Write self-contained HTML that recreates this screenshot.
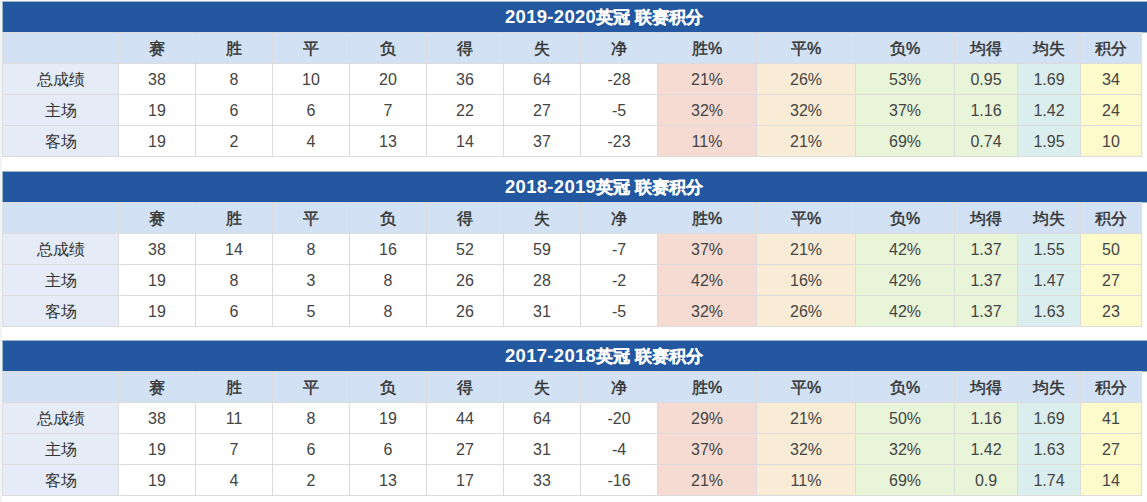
<!DOCTYPE html>
<html><head><meta charset="utf-8"><style>
html,body{margin:0;padding:0;width:1147px;height:502px;overflow:hidden;background:#fff;position:relative}
body{font-family:"Liberation Sans",sans-serif;color:#333333}
.s{position:absolute;left:0;top:0;width:1px;height:502px;background:#eef1f5}
.s2{position:absolute;left:1px;top:0;width:1px;height:502px;background:#f6f7f9}
.b{position:absolute;background:#dcdcdc}
.c{position:absolute;box-sizing:border-box;padding-top:2px;display:flex;align-items:center;justify-content:center;font-size:16px;white-space:nowrap;color:#444}
.h{color:#333333;font-weight:normal;-webkit-text-stroke:0.45px #333333;background:#d2e2f4}
.t{position:absolute;background:#2358a0;color:#fff;font-weight:bold;white-space:nowrap}
.t span{position:absolute;top:0;line-height:30px}
.t .d{font-size:18.5px;letter-spacing:0.3px;left:502px}
.t .k{font-size:16.8px;top:1px;-webkit-text-stroke:0.3px #fff;left:593px}
</style></head><body>
<div class="s"></div><div class="s2"></div>

<div class="b" style="left:2px;top:1px;width:1145px;height:32px;background:#9ab6c4"></div>
<div class="t" style="left:3px;top:2px;width:1200px;height:30px"><span class="d">2019-2020</span><span class="k">英冠 联赛积分</span></div>
<div class="b" style="left:2px;top:32px;width:1140px;height:125px"></div>
<div class="c h" style="left:3px;top:33px;width:115px;height:30px"></div>
<div class="c h" style="left:119px;top:33px;width:76px;height:30px">赛</div>
<div class="c h" style="left:196px;top:33px;width:76px;height:30px">胜</div>
<div class="c h" style="left:273px;top:33px;width:76px;height:30px">平</div>
<div class="c h" style="left:350px;top:33px;width:76px;height:30px">负</div>
<div class="c h" style="left:427px;top:33px;width:76px;height:30px">得</div>
<div class="c h" style="left:504px;top:33px;width:76px;height:30px">失</div>
<div class="c h" style="left:581px;top:33px;width:76px;height:30px">净</div>
<div class="c h" style="left:658px;top:33px;width:98px;height:30px">胜%</div>
<div class="c h" style="left:757px;top:33px;width:98px;height:30px">平%</div>
<div class="c h" style="left:856px;top:33px;width:98px;height:30px">负%</div>
<div class="c h" style="left:955px;top:33px;width:62px;height:30px">均得</div>
<div class="c h" style="left:1018px;top:33px;width:62px;height:30px">均失</div>
<div class="c h" style="left:1081px;top:33px;width:60px;height:30px">积分</div>
<div class="c" style="left:3px;top:64px;width:115px;height:30px;background:#e5ecf7;color:#333">总成绩</div>
<div class="c" style="left:119px;top:64px;width:76px;height:30px;background:#ffffff">38</div>
<div class="c" style="left:196px;top:64px;width:76px;height:30px;background:#ffffff">8</div>
<div class="c" style="left:273px;top:64px;width:76px;height:30px;background:#ffffff">10</div>
<div class="c" style="left:350px;top:64px;width:76px;height:30px;background:#ffffff">20</div>
<div class="c" style="left:427px;top:64px;width:76px;height:30px;background:#ffffff">36</div>
<div class="c" style="left:504px;top:64px;width:76px;height:30px;background:#ffffff">64</div>
<div class="c" style="left:581px;top:64px;width:76px;height:30px;background:#ffffff">-28</div>
<div class="c" style="left:658px;top:64px;width:98px;height:30px;background:#f6dbd3">21%</div>
<div class="c" style="left:757px;top:64px;width:98px;height:30px;background:#f8ecd7">26%</div>
<div class="c" style="left:856px;top:64px;width:98px;height:30px;background:#e8f5d9">53%</div>
<div class="c" style="left:955px;top:64px;width:62px;height:30px;background:#e8f5d9">0.95</div>
<div class="c" style="left:1018px;top:64px;width:62px;height:30px;background:#daeeed">1.69</div>
<div class="c" style="left:1081px;top:64px;width:60px;height:30px;background:#fdfbcb">34</div>
<div class="c" style="left:3px;top:95px;width:115px;height:30px;background:#e5ecf7;color:#333">主场</div>
<div class="c" style="left:119px;top:95px;width:76px;height:30px;background:#ffffff">19</div>
<div class="c" style="left:196px;top:95px;width:76px;height:30px;background:#ffffff">6</div>
<div class="c" style="left:273px;top:95px;width:76px;height:30px;background:#ffffff">6</div>
<div class="c" style="left:350px;top:95px;width:76px;height:30px;background:#ffffff">7</div>
<div class="c" style="left:427px;top:95px;width:76px;height:30px;background:#ffffff">22</div>
<div class="c" style="left:504px;top:95px;width:76px;height:30px;background:#ffffff">27</div>
<div class="c" style="left:581px;top:95px;width:76px;height:30px;background:#ffffff">-5</div>
<div class="c" style="left:658px;top:95px;width:98px;height:30px;background:#f6dbd3">32%</div>
<div class="c" style="left:757px;top:95px;width:98px;height:30px;background:#f8ecd7">32%</div>
<div class="c" style="left:856px;top:95px;width:98px;height:30px;background:#e8f5d9">37%</div>
<div class="c" style="left:955px;top:95px;width:62px;height:30px;background:#e8f5d9">1.16</div>
<div class="c" style="left:1018px;top:95px;width:62px;height:30px;background:#daeeed">1.42</div>
<div class="c" style="left:1081px;top:95px;width:60px;height:30px;background:#fdfbcb">24</div>
<div class="c" style="left:3px;top:126px;width:115px;height:30px;background:#e5ecf7;color:#333">客场</div>
<div class="c" style="left:119px;top:126px;width:76px;height:30px;background:#ffffff">19</div>
<div class="c" style="left:196px;top:126px;width:76px;height:30px;background:#ffffff">2</div>
<div class="c" style="left:273px;top:126px;width:76px;height:30px;background:#ffffff">4</div>
<div class="c" style="left:350px;top:126px;width:76px;height:30px;background:#ffffff">13</div>
<div class="c" style="left:427px;top:126px;width:76px;height:30px;background:#ffffff">14</div>
<div class="c" style="left:504px;top:126px;width:76px;height:30px;background:#ffffff">37</div>
<div class="c" style="left:581px;top:126px;width:76px;height:30px;background:#ffffff">-23</div>
<div class="c" style="left:658px;top:126px;width:98px;height:30px;background:#f6dbd3">11%</div>
<div class="c" style="left:757px;top:126px;width:98px;height:30px;background:#f8ecd7">21%</div>
<div class="c" style="left:856px;top:126px;width:98px;height:30px;background:#e8f5d9">69%</div>
<div class="c" style="left:955px;top:126px;width:62px;height:30px;background:#e8f5d9">0.74</div>
<div class="c" style="left:1018px;top:126px;width:62px;height:30px;background:#daeeed">1.95</div>
<div class="c" style="left:1081px;top:126px;width:60px;height:30px;background:#fdfbcb">10</div>
<div class="b" style="left:2px;top:171px;width:1145px;height:32px;background:#9ab6c4"></div>
<div class="t" style="left:3px;top:172px;width:1200px;height:30px"><span class="d">2018-2019</span><span class="k">英冠 联赛积分</span></div>
<div class="b" style="left:2px;top:202px;width:1140px;height:125px"></div>
<div class="c h" style="left:3px;top:203px;width:115px;height:30px"></div>
<div class="c h" style="left:119px;top:203px;width:76px;height:30px">赛</div>
<div class="c h" style="left:196px;top:203px;width:76px;height:30px">胜</div>
<div class="c h" style="left:273px;top:203px;width:76px;height:30px">平</div>
<div class="c h" style="left:350px;top:203px;width:76px;height:30px">负</div>
<div class="c h" style="left:427px;top:203px;width:76px;height:30px">得</div>
<div class="c h" style="left:504px;top:203px;width:76px;height:30px">失</div>
<div class="c h" style="left:581px;top:203px;width:76px;height:30px">净</div>
<div class="c h" style="left:658px;top:203px;width:98px;height:30px">胜%</div>
<div class="c h" style="left:757px;top:203px;width:98px;height:30px">平%</div>
<div class="c h" style="left:856px;top:203px;width:98px;height:30px">负%</div>
<div class="c h" style="left:955px;top:203px;width:62px;height:30px">均得</div>
<div class="c h" style="left:1018px;top:203px;width:62px;height:30px">均失</div>
<div class="c h" style="left:1081px;top:203px;width:60px;height:30px">积分</div>
<div class="c" style="left:3px;top:234px;width:115px;height:30px;background:#e5ecf7;color:#333">总成绩</div>
<div class="c" style="left:119px;top:234px;width:76px;height:30px;background:#ffffff">38</div>
<div class="c" style="left:196px;top:234px;width:76px;height:30px;background:#ffffff">14</div>
<div class="c" style="left:273px;top:234px;width:76px;height:30px;background:#ffffff">8</div>
<div class="c" style="left:350px;top:234px;width:76px;height:30px;background:#ffffff">16</div>
<div class="c" style="left:427px;top:234px;width:76px;height:30px;background:#ffffff">52</div>
<div class="c" style="left:504px;top:234px;width:76px;height:30px;background:#ffffff">59</div>
<div class="c" style="left:581px;top:234px;width:76px;height:30px;background:#ffffff">-7</div>
<div class="c" style="left:658px;top:234px;width:98px;height:30px;background:#f6dbd3">37%</div>
<div class="c" style="left:757px;top:234px;width:98px;height:30px;background:#f8ecd7">21%</div>
<div class="c" style="left:856px;top:234px;width:98px;height:30px;background:#e8f5d9">42%</div>
<div class="c" style="left:955px;top:234px;width:62px;height:30px;background:#e8f5d9">1.37</div>
<div class="c" style="left:1018px;top:234px;width:62px;height:30px;background:#daeeed">1.55</div>
<div class="c" style="left:1081px;top:234px;width:60px;height:30px;background:#fdfbcb">50</div>
<div class="c" style="left:3px;top:265px;width:115px;height:30px;background:#e5ecf7;color:#333">主场</div>
<div class="c" style="left:119px;top:265px;width:76px;height:30px;background:#ffffff">19</div>
<div class="c" style="left:196px;top:265px;width:76px;height:30px;background:#ffffff">8</div>
<div class="c" style="left:273px;top:265px;width:76px;height:30px;background:#ffffff">3</div>
<div class="c" style="left:350px;top:265px;width:76px;height:30px;background:#ffffff">8</div>
<div class="c" style="left:427px;top:265px;width:76px;height:30px;background:#ffffff">26</div>
<div class="c" style="left:504px;top:265px;width:76px;height:30px;background:#ffffff">28</div>
<div class="c" style="left:581px;top:265px;width:76px;height:30px;background:#ffffff">-2</div>
<div class="c" style="left:658px;top:265px;width:98px;height:30px;background:#f6dbd3">42%</div>
<div class="c" style="left:757px;top:265px;width:98px;height:30px;background:#f8ecd7">16%</div>
<div class="c" style="left:856px;top:265px;width:98px;height:30px;background:#e8f5d9">42%</div>
<div class="c" style="left:955px;top:265px;width:62px;height:30px;background:#e8f5d9">1.37</div>
<div class="c" style="left:1018px;top:265px;width:62px;height:30px;background:#daeeed">1.47</div>
<div class="c" style="left:1081px;top:265px;width:60px;height:30px;background:#fdfbcb">27</div>
<div class="c" style="left:3px;top:296px;width:115px;height:30px;background:#e5ecf7;color:#333">客场</div>
<div class="c" style="left:119px;top:296px;width:76px;height:30px;background:#ffffff">19</div>
<div class="c" style="left:196px;top:296px;width:76px;height:30px;background:#ffffff">6</div>
<div class="c" style="left:273px;top:296px;width:76px;height:30px;background:#ffffff">5</div>
<div class="c" style="left:350px;top:296px;width:76px;height:30px;background:#ffffff">8</div>
<div class="c" style="left:427px;top:296px;width:76px;height:30px;background:#ffffff">26</div>
<div class="c" style="left:504px;top:296px;width:76px;height:30px;background:#ffffff">31</div>
<div class="c" style="left:581px;top:296px;width:76px;height:30px;background:#ffffff">-5</div>
<div class="c" style="left:658px;top:296px;width:98px;height:30px;background:#f6dbd3">32%</div>
<div class="c" style="left:757px;top:296px;width:98px;height:30px;background:#f8ecd7">26%</div>
<div class="c" style="left:856px;top:296px;width:98px;height:30px;background:#e8f5d9">42%</div>
<div class="c" style="left:955px;top:296px;width:62px;height:30px;background:#e8f5d9">1.37</div>
<div class="c" style="left:1018px;top:296px;width:62px;height:30px;background:#daeeed">1.63</div>
<div class="c" style="left:1081px;top:296px;width:60px;height:30px;background:#fdfbcb">23</div>
<div class="b" style="left:2px;top:340px;width:1145px;height:32px;background:#9ab6c4"></div>
<div class="t" style="left:3px;top:341px;width:1200px;height:30px"><span class="d">2017-2018</span><span class="k">英冠 联赛积分</span></div>
<div class="b" style="left:2px;top:371px;width:1140px;height:125px"></div>
<div class="c h" style="left:3px;top:372px;width:115px;height:30px"></div>
<div class="c h" style="left:119px;top:372px;width:76px;height:30px">赛</div>
<div class="c h" style="left:196px;top:372px;width:76px;height:30px">胜</div>
<div class="c h" style="left:273px;top:372px;width:76px;height:30px">平</div>
<div class="c h" style="left:350px;top:372px;width:76px;height:30px">负</div>
<div class="c h" style="left:427px;top:372px;width:76px;height:30px">得</div>
<div class="c h" style="left:504px;top:372px;width:76px;height:30px">失</div>
<div class="c h" style="left:581px;top:372px;width:76px;height:30px">净</div>
<div class="c h" style="left:658px;top:372px;width:98px;height:30px">胜%</div>
<div class="c h" style="left:757px;top:372px;width:98px;height:30px">平%</div>
<div class="c h" style="left:856px;top:372px;width:98px;height:30px">负%</div>
<div class="c h" style="left:955px;top:372px;width:62px;height:30px">均得</div>
<div class="c h" style="left:1018px;top:372px;width:62px;height:30px">均失</div>
<div class="c h" style="left:1081px;top:372px;width:60px;height:30px">积分</div>
<div class="c" style="left:3px;top:403px;width:115px;height:30px;background:#e5ecf7;color:#333">总成绩</div>
<div class="c" style="left:119px;top:403px;width:76px;height:30px;background:#ffffff">38</div>
<div class="c" style="left:196px;top:403px;width:76px;height:30px;background:#ffffff">11</div>
<div class="c" style="left:273px;top:403px;width:76px;height:30px;background:#ffffff">8</div>
<div class="c" style="left:350px;top:403px;width:76px;height:30px;background:#ffffff">19</div>
<div class="c" style="left:427px;top:403px;width:76px;height:30px;background:#ffffff">44</div>
<div class="c" style="left:504px;top:403px;width:76px;height:30px;background:#ffffff">64</div>
<div class="c" style="left:581px;top:403px;width:76px;height:30px;background:#ffffff">-20</div>
<div class="c" style="left:658px;top:403px;width:98px;height:30px;background:#f6dbd3">29%</div>
<div class="c" style="left:757px;top:403px;width:98px;height:30px;background:#f8ecd7">21%</div>
<div class="c" style="left:856px;top:403px;width:98px;height:30px;background:#e8f5d9">50%</div>
<div class="c" style="left:955px;top:403px;width:62px;height:30px;background:#e8f5d9">1.16</div>
<div class="c" style="left:1018px;top:403px;width:62px;height:30px;background:#daeeed">1.69</div>
<div class="c" style="left:1081px;top:403px;width:60px;height:30px;background:#fdfbcb">41</div>
<div class="c" style="left:3px;top:434px;width:115px;height:30px;background:#e5ecf7;color:#333">主场</div>
<div class="c" style="left:119px;top:434px;width:76px;height:30px;background:#ffffff">19</div>
<div class="c" style="left:196px;top:434px;width:76px;height:30px;background:#ffffff">7</div>
<div class="c" style="left:273px;top:434px;width:76px;height:30px;background:#ffffff">6</div>
<div class="c" style="left:350px;top:434px;width:76px;height:30px;background:#ffffff">6</div>
<div class="c" style="left:427px;top:434px;width:76px;height:30px;background:#ffffff">27</div>
<div class="c" style="left:504px;top:434px;width:76px;height:30px;background:#ffffff">31</div>
<div class="c" style="left:581px;top:434px;width:76px;height:30px;background:#ffffff">-4</div>
<div class="c" style="left:658px;top:434px;width:98px;height:30px;background:#f6dbd3">37%</div>
<div class="c" style="left:757px;top:434px;width:98px;height:30px;background:#f8ecd7">32%</div>
<div class="c" style="left:856px;top:434px;width:98px;height:30px;background:#e8f5d9">32%</div>
<div class="c" style="left:955px;top:434px;width:62px;height:30px;background:#e8f5d9">1.42</div>
<div class="c" style="left:1018px;top:434px;width:62px;height:30px;background:#daeeed">1.63</div>
<div class="c" style="left:1081px;top:434px;width:60px;height:30px;background:#fdfbcb">27</div>
<div class="c" style="left:3px;top:465px;width:115px;height:30px;background:#e5ecf7;color:#333">客场</div>
<div class="c" style="left:119px;top:465px;width:76px;height:30px;background:#ffffff">19</div>
<div class="c" style="left:196px;top:465px;width:76px;height:30px;background:#ffffff">4</div>
<div class="c" style="left:273px;top:465px;width:76px;height:30px;background:#ffffff">2</div>
<div class="c" style="left:350px;top:465px;width:76px;height:30px;background:#ffffff">13</div>
<div class="c" style="left:427px;top:465px;width:76px;height:30px;background:#ffffff">17</div>
<div class="c" style="left:504px;top:465px;width:76px;height:30px;background:#ffffff">33</div>
<div class="c" style="left:581px;top:465px;width:76px;height:30px;background:#ffffff">-16</div>
<div class="c" style="left:658px;top:465px;width:98px;height:30px;background:#f6dbd3">21%</div>
<div class="c" style="left:757px;top:465px;width:98px;height:30px;background:#f8ecd7">11%</div>
<div class="c" style="left:856px;top:465px;width:98px;height:30px;background:#e8f5d9">69%</div>
<div class="c" style="left:955px;top:465px;width:62px;height:30px;background:#e8f5d9">0.9</div>
<div class="c" style="left:1018px;top:465px;width:62px;height:30px;background:#daeeed">1.74</div>
<div class="c" style="left:1081px;top:465px;width:60px;height:30px;background:#fdfbcb">14</div>
</body></html>
